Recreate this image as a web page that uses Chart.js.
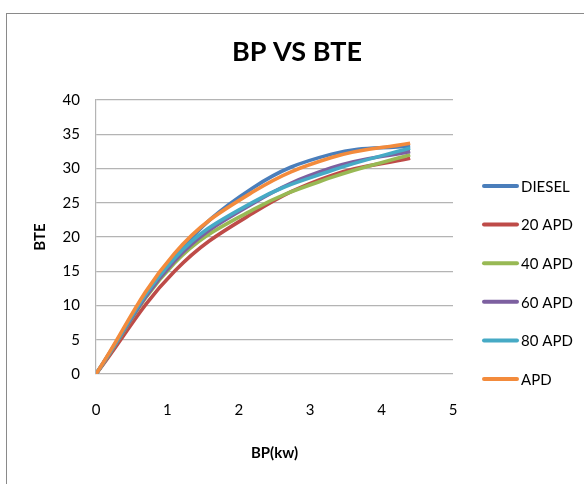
<!DOCTYPE html>
<html>
<head>
<meta charset="utf-8">
<script src="https://cdn.jsdelivr.net/npm/chart.js@4.4.0/dist/chart.umd.min.js"></script>
<style>
  html, body { margin: 0; padding: 0; background: #fff; overflow: hidden; }
  #wrap { position: relative; width: 584px; height: 484px; }
  #frame { position: absolute; left: 6px; top: 13px; width: 800px; height: 800px; border: 1.5px solid #8a8a8a; box-sizing: border-box; }
  canvas { position: absolute; left: 0; top: 0; }
</style>
</head>
<body>
<div id="wrap">
  <div id="frame"></div>
  <canvas id="c" width="584" height="484"></canvas>
</div>
<script>
const BP = [0, 1.1, 2.2, 3.3, 4.4];
const seriesNames = ['DIESEL', '20 APD', '40 APD', '60 APD', '80 APD', 'APD'];
const DIESEL = [0, 17.1, 27.2, 32.1, 33.3];
const APD20  = [0, 15.0, 23.5, 29.0, 31.5];
const APD40  = [0, 16.2, 24.0, 28.7, 32.0];
const APD60  = [0, 16.5, 24.9, 30.1, 32.5];
const APD80  = [0, 16.9, 25.1, 29.7, 33.0];
const APD    = [0, 17.6, 26.6, 31.6, 33.7];
const xTicks = [0, 1, 2, 3, 4, 5];
const yTicks = [0, 5, 10, 15, 20, 25, 30, 35, 40];

const colors = ['#4a7ebb', '#be4b48', '#98b954', '#7d60a0', '#46aac5', '#f38b3c'];
const seriesValues = [DIESEL, APD20, APD40, APD60, APD80, APD];
const FONT = "Lato, 'Open Sans', sans-serif";

const datasets = seriesValues.map((vals, i) => ({
  label: seriesNames[i],
  data: vals.map((v, k) => ({ x: BP[k], y: v })),
  borderColor: colors[i],
  backgroundColor: colors[i],
  borderWidth: 3.6,
  pointRadius: 0,
  tension: 0.4,
  fill: false,
  order: seriesValues.length - i
}));

const legendPlugin = {
  id: 'sideLegend',
  afterLayout(chart) {
    // center the title over the whole chart frame, like the original
    const t = chart.titleBlock;
    if (t) { t.left = 10; t.right = 584; t.width = 574; }
  },
  afterDraw(chart) {
    const ctx = chart.ctx;
    ctx.save();
    ctx.font = '15px ' + FONT;
    ctx.textBaseline = 'middle';
    ctx.fillStyle = '#000';
    chart.data.datasets.forEach((ds, i) => {
      const y = 186 + i * 38.6;
      ctx.strokeStyle = ds.borderColor;
      ctx.lineWidth = 4;
      ctx.lineCap = 'round';
      ctx.beginPath();
      ctx.moveTo(484, y);
      ctx.lineTo(517, y);
      ctx.stroke();
      ctx.fillText(ds.label, 521, y + 1);
    });
    ctx.restore();
  }
};

new Chart(document.getElementById('c'), {
  type: 'line',
  data: { datasets },
  plugins: [legendPlugin],
  options: {
    responsive: false,
    animation: false,
    layout: { padding: { left: 0, right: 131, top: 0, bottom: 0 } },
    plugins: {
      legend: { display: false },
      tooltip: { enabled: false },
      title: {
        display: true,
        text: 'BP VS BTE',
        fullSize: false,
        color: '#000',
        font: { family: FONT, size: 27, weight: 'bold' },
        padding: { top: 36, bottom: 31.6 }
      }
    },
    scales: {
      x: {
        type: 'linear',
        min: 0, max: 5,
        afterBuildTicks(scale) { scale.ticks = xTicks.map(v => ({ value: v })); },
        afterFit(scale) { scale.height = 110; },
        grid: { display: false, drawTicks: false },
        border: { display: false },
        ticks: { color: '#000', padding: 27, font: { family: FONT, size: 15 }, maxRotation: 0 },
        title: { display: true, text: 'BP(kw)', color: '#000', font: { family: FONT, size: 15, weight: 'bold' }, padding: 22 }
      },
      y: {
        type: 'linear',
        min: 0, max: 40,
        afterBuildTicks(scale) { scale.ticks = yTicks.map(v => ({ value: v })); },
        afterFit(scale) { scale.width = 96; },
        grid: { color: '#b4b4b4', lineWidth: 1.2, drawTicks: false },
        border: { display: true, color: '#b4b4b4', width: 1.2 },
        ticks: { color: '#000', padding: 16, font: { family: FONT, size: 15 } },
        title: { display: true, text: 'BTE', color: '#000', font: { family: FONT, size: 15, weight: 'bold' }, padding: 31 }
      }
    }
  }
});
</script>
</body>
</html>
